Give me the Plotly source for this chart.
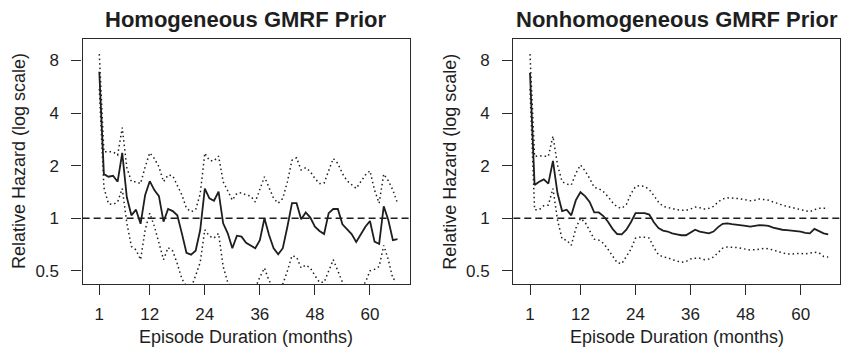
import plotly.graph_objects as go

months = list(range(1, 67))

hom_mean = [6.9, 1.79, 1.73, 1.75, 1.62, 2.37, 1.32, 1.04, 1.12, 0.93,
            1.36, 1.63, 1.45, 1.34, 0.956, 1.13, 1.10, 1.04, 0.82, 0.635,
            0.619, 0.652, 0.857, 1.48, 1.30, 1.26, 1.42, 0.936, 0.82, 0.674,
            0.795, 0.785, 0.725, 0.70, 0.674, 0.75, 1.0, 0.802, 0.674, 0.622,
            0.674, 0.895, 1.22, 1.22, 0.987, 1.08, 1.01, 0.895, 0.846, 0.813,
            1.07, 1.13, 1.13, 0.924, 0.869, 0.813, 0.732, 0.813, 0.895, 0.965,
            0.735, 0.713, 1.17, 0.978, 0.75, 0.76]
hom_upper = [8.7, 2.40, 2.40, 2.40, 2.30, 3.30, 1.95, 1.62, 1.62, 1.58,
             1.97, 2.37, 2.20, 1.97, 1.62, 1.77, 1.75, 1.55, 1.36, 1.14,
             1.09, 1.12, 1.38, 2.36, 2.14, 2.13, 2.27, 1.62, 1.43, 1.27,
             1.39, 1.40, 1.36, 1.34, 1.24, 1.45, 1.73, 1.50, 1.30, 1.22,
             1.30, 1.62, 2.15, 2.22, 1.89, 1.95, 1.85, 1.69, 1.58, 1.59,
             1.85, 2.20, 2.06, 1.80, 1.64, 1.55, 1.48, 1.62, 1.77, 1.87,
             1.45, 1.22, 1.79, 1.64, 1.45, 1.22]
hom_lower = [5.5, 1.5, 1.21, 1.2, 1.24, 1.48, 0.94, 0.69, 0.66, 0.58,
             0.86, 1.07, 0.9, 0.71, 0.58, 0.68, 0.65, 0.55, 0.45, 0.41,
             0.40, 0.47, 0.56, 0.86, 0.79, 0.77, 0.82, 0.53, 0.43, 0.40,
             0.39, 0.40, 0.40, 0.38, 0.40, 0.46, 0.52, 0.44, 0.40, 0.38,
             0.42, 0.50, 0.61, 0.60, 0.52, 0.54, 0.52, 0.47, 0.43, 0.43,
             0.50, 0.58, 0.50, 0.43, 0.40, 0.38, 0.38, 0.40, 0.43, 0.50,
             0.51, 0.53, 0.70, 0.58, 0.45, 0.44]

nonhom_mean = [6.8, 1.55, 1.62, 1.67, 1.58, 2.13, 1.39, 1.10, 1.12, 1.04,
               1.27, 1.41, 1.34, 1.24, 1.08, 1.08, 1.03, 0.956, 0.87, 0.813,
               0.81, 0.86, 0.95, 1.07, 1.07, 1.07, 1.05, 0.95, 0.88, 0.85,
               0.84, 0.82, 0.81, 0.80, 0.80, 0.83, 0.86, 0.84, 0.83, 0.82,
               0.84, 0.89, 0.93, 0.935, 0.925, 0.92, 0.91, 0.905, 0.895, 0.905,
               0.915, 0.91, 0.905, 0.885, 0.87, 0.86, 0.855, 0.85, 0.848, 0.84,
               0.825, 0.82, 0.87, 0.84, 0.82, 0.81]
nonhom_upper = [8.7, 2.26, 2.28, 2.28, 2.26, 2.95, 2.02, 1.62, 1.57, 1.55,
                1.81, 2.02, 1.87, 1.69, 1.50, 1.48, 1.42, 1.33, 1.23, 1.16,
                1.14, 1.20, 1.38, 1.52, 1.54, 1.52, 1.46, 1.35, 1.24, 1.17,
                1.15, 1.14, 1.12, 1.11, 1.11, 1.13, 1.16, 1.15, 1.13, 1.14,
                1.17, 1.24, 1.29, 1.31, 1.31, 1.30, 1.29, 1.27, 1.26, 1.27,
                1.29, 1.28, 1.27, 1.24, 1.21, 1.19, 1.17, 1.155, 1.14, 1.125,
                1.10, 1.09, 1.12, 1.14, 1.14, 1.14]
nonhom_lower = [5.5, 1.12, 1.12, 1.18, 1.19, 1.48, 0.978, 0.76, 0.75, 0.70,
                0.877, 1.0, 0.95, 0.857, 0.76, 0.75, 0.72, 0.665, 0.608, 0.557,
                0.55, 0.60, 0.665, 0.77, 0.78, 0.78, 0.77, 0.68, 0.62, 0.60,
                0.595, 0.58, 0.57, 0.56, 0.565, 0.585, 0.59, 0.59, 0.58, 0.585,
                0.60, 0.635, 0.675, 0.686, 0.685, 0.68, 0.673, 0.665, 0.659, 0.66,
                0.665, 0.673, 0.67, 0.655, 0.646, 0.635, 0.625, 0.625, 0.628, 0.63,
                0.625, 0.635, 0.64, 0.635, 0.605, 0.60]

x_tickvals = [1, 12, 24, 36, 48, 60]
y_tickvals = [0.5, 1, 2, 4, 8]
y_ticktext = ["0.5", "1", "2", "4", "8"]
titles = ["Homogeneous GMRF Prior", "Nonhomogeneous GMRF Prior"]
x_title = "Episode Duration (months)"
y_title = "Relative Hazard (log scale)"

X_RANGE = [-2.64, 68.64]
Y_RANGE_LOG10 = [-0.376, 1.026]
REF_LEVEL = 1

W, H = 845, 351
FONT = "Liberation Sans, Arial, sans-serif"
INK = "#1e1e1e"

fig = go.Figure()
panels = [(hom_mean, hom_upper, hom_lower), (nonhom_mean, nonhom_upper, nonhom_lower)]
for i, (mean, up, lo) in enumerate(panels):
    xa = "x" if i == 0 else "x2"
    ya = "y" if i == 0 else "y2"
    for band in (up, lo):
        fig.add_trace(go.Scatter(x=months, y=band, mode="lines", xaxis=xa, yaxis=ya,
                                 line=dict(color=INK, width=1.5, dash="1.5px,3px"),
                                 showlegend=False, hoverinfo="skip"))
    fig.add_trace(go.Scatter(x=X_RANGE, y=[REF_LEVEL, REF_LEVEL], mode="lines", xaxis=xa, yaxis=ya,
                             line=dict(color=INK, width=1.5, dash="7px,4px"),
                             showlegend=False, hoverinfo="skip"))
    fig.add_trace(go.Scatter(x=months, y=mean, mode="lines", xaxis=xa, yaxis=ya,
                             line=dict(color=INK, width=1.8),
                             showlegend=False))

# pixel geometry of the two plot boxes
boxes = [(82.6, 409.6), (513.3, 840.3)]
top_px, bot_px = 39, 284

axis_common = dict(showline=True, linecolor="#2a2a2a", linewidth=1.3, mirror=True,
                   ticks="outside", ticklen=10, tickwidth=1.3, tickcolor="#2a2a2a",
                   showgrid=False, zeroline=False,
                   tickfont=dict(family=FONT, size=17, color=INK))

layout = dict(width=W, height=H, paper_bgcolor="white", plot_bgcolor="white",
              margin=dict(l=0, r=0, t=top_px, b=H - bot_px), showlegend=False,
              font=dict(family=FONT, color=INK))
for i, (x0, x1) in enumerate(boxes):
    sfx = "" if i == 0 else str(i + 1)
    layout["xaxis" + sfx] = dict(axis_common, domain=[x0 / W, x1 / W], range=X_RANGE,
                                 tickvals=x_tickvals, ticklabelstandoff=4,
                                 anchor="y" + sfx)
    layout["yaxis" + sfx] = dict(axis_common, domain=[0, 1], type="log", range=Y_RANGE_LOG10,
                                 tickvals=y_tickvals, ticktext=y_ticktext, ticklabelstandoff=9,
                                 anchor="x" + sfx)

plot_h = bot_px - top_px
def py(p):
    return (bot_px - p) / plot_h

ann = []
for i, (x0, x1) in enumerate(boxes):
    cx = (x0 + x1) / 2 / W
    ann.append(dict(text="<b>" + titles[i] + "</b>", x=cx, y=py(20), xref="paper", yref="paper",
                    xanchor="center", yanchor="middle", showarrow=False,
                    font=dict(family=FONT, size=22, color=INK)))
    ann.append(dict(text=x_title, x=cx, y=py(337), xref="paper", yref="paper",
                    xanchor="center", yanchor="middle", showarrow=False,
                    font=dict(family=FONT, size=18, color=INK)))
    ann.append(dict(text=y_title, x=(x0 - 64) / W, y=py((top_px + bot_px) / 2),
                    xref="paper", yref="paper", textangle=-90,
                    xanchor="center", yanchor="middle", showarrow=False,
                    font=dict(family=FONT, size=18, color=INK)))
layout["annotations"] = ann

fig.update_layout(**layout)
fig.write_html("out.html")
